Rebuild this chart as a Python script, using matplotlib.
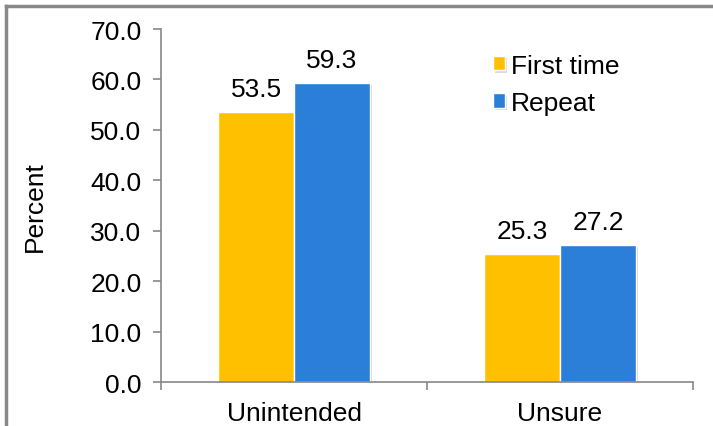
import numpy as np
import matplotlib.pyplot as plt
import matplotlib.patheffects as pe
from matplotlib.lines import Line2D

plt.rcParams['font.family'] = ['Liberation Sans', 'DejaVu Sans']

categories = ['Unintended', 'Unsure']
first_time = [53.5, 25.3]
repeat = [59.3, 27.2]
series_names = ['First time', 'Repeat']

fig = plt.figure(figsize=(7.13, 4.27), dpi=100)
ax = fig.add_axes([0.2258, 0.103, 0.7462, 0.8267])

x = np.arange(len(categories))
w = 0.285
shadow = [pe.SimplePatchShadow(offset=(1.5, -1.5), shadow_rgbFace='#999999', alpha=0.35), pe.Normal()]

b1 = ax.bar(x - w / 2, first_time, w, color='#FFC000', edgecolor='white', linewidth=1.0,
            label=series_names[0], path_effects=shadow)
b2 = ax.bar(x + w / 2, repeat, w, color='#2B7FD8', edgecolor='white', linewidth=1.0,
            label=series_names[1], path_effects=shadow)

for bars in (b1, b2):
    ax.bar_label(bars, labels=['%.1f' % b.get_height() for b in bars], padding=8, fontsize=19)

ax.set_xlim(-0.5, 1.5)
ax.set_ylim(0, 70)
ax.set_yticks(np.arange(0, 71, 10))
ax.set_yticklabels(['%.1f' % v for v in np.arange(0, 71, 10)])
ax.set_xticks([-0.5, 0.5, 1.5], minor=False)
ax.set_xticklabels([])
ax.set_xticks(x, minor=True)
ax.set_xticklabels(categories, minor=True)
ax.tick_params(axis='x', which='minor', length=0, pad=14, labelsize=19)
ax.tick_params(axis='x', which='major', length=6, width=1.2, color='#888888')
ax.tick_params(axis='y', length=6, width=1.2, color='#888888', labelsize=19, pad=8)

for s in ['top', 'right']:
    ax.spines[s].set_visible(False)
for s in ['left', 'bottom']:
    ax.spines[s].set_color('#888888')
    ax.spines[s].set_linewidth(1.2)

ax.set_ylabel('Percent', fontsize=19, labelpad=31)

ax.legend(loc='upper left', bbox_to_anchor=(0.624, 0.93), frameon=False, fontsize=19,
          borderpad=0, borderaxespad=0,
          handlelength=0.45, handleheight=0.45, handletextpad=0.22, labelspacing=0.5)

# outer frame
fig.add_artist(Line2D([6 / 713, 6 / 713], [0, 1 - 7 / 427], color='#888888', lw=2.5))
fig.add_artist(Line2D([6 / 713, 1], [1 - 7 / 427, 1 - 7 / 427], color='#888888', lw=2.5))

fig.savefig('out.png', dpi=100)
